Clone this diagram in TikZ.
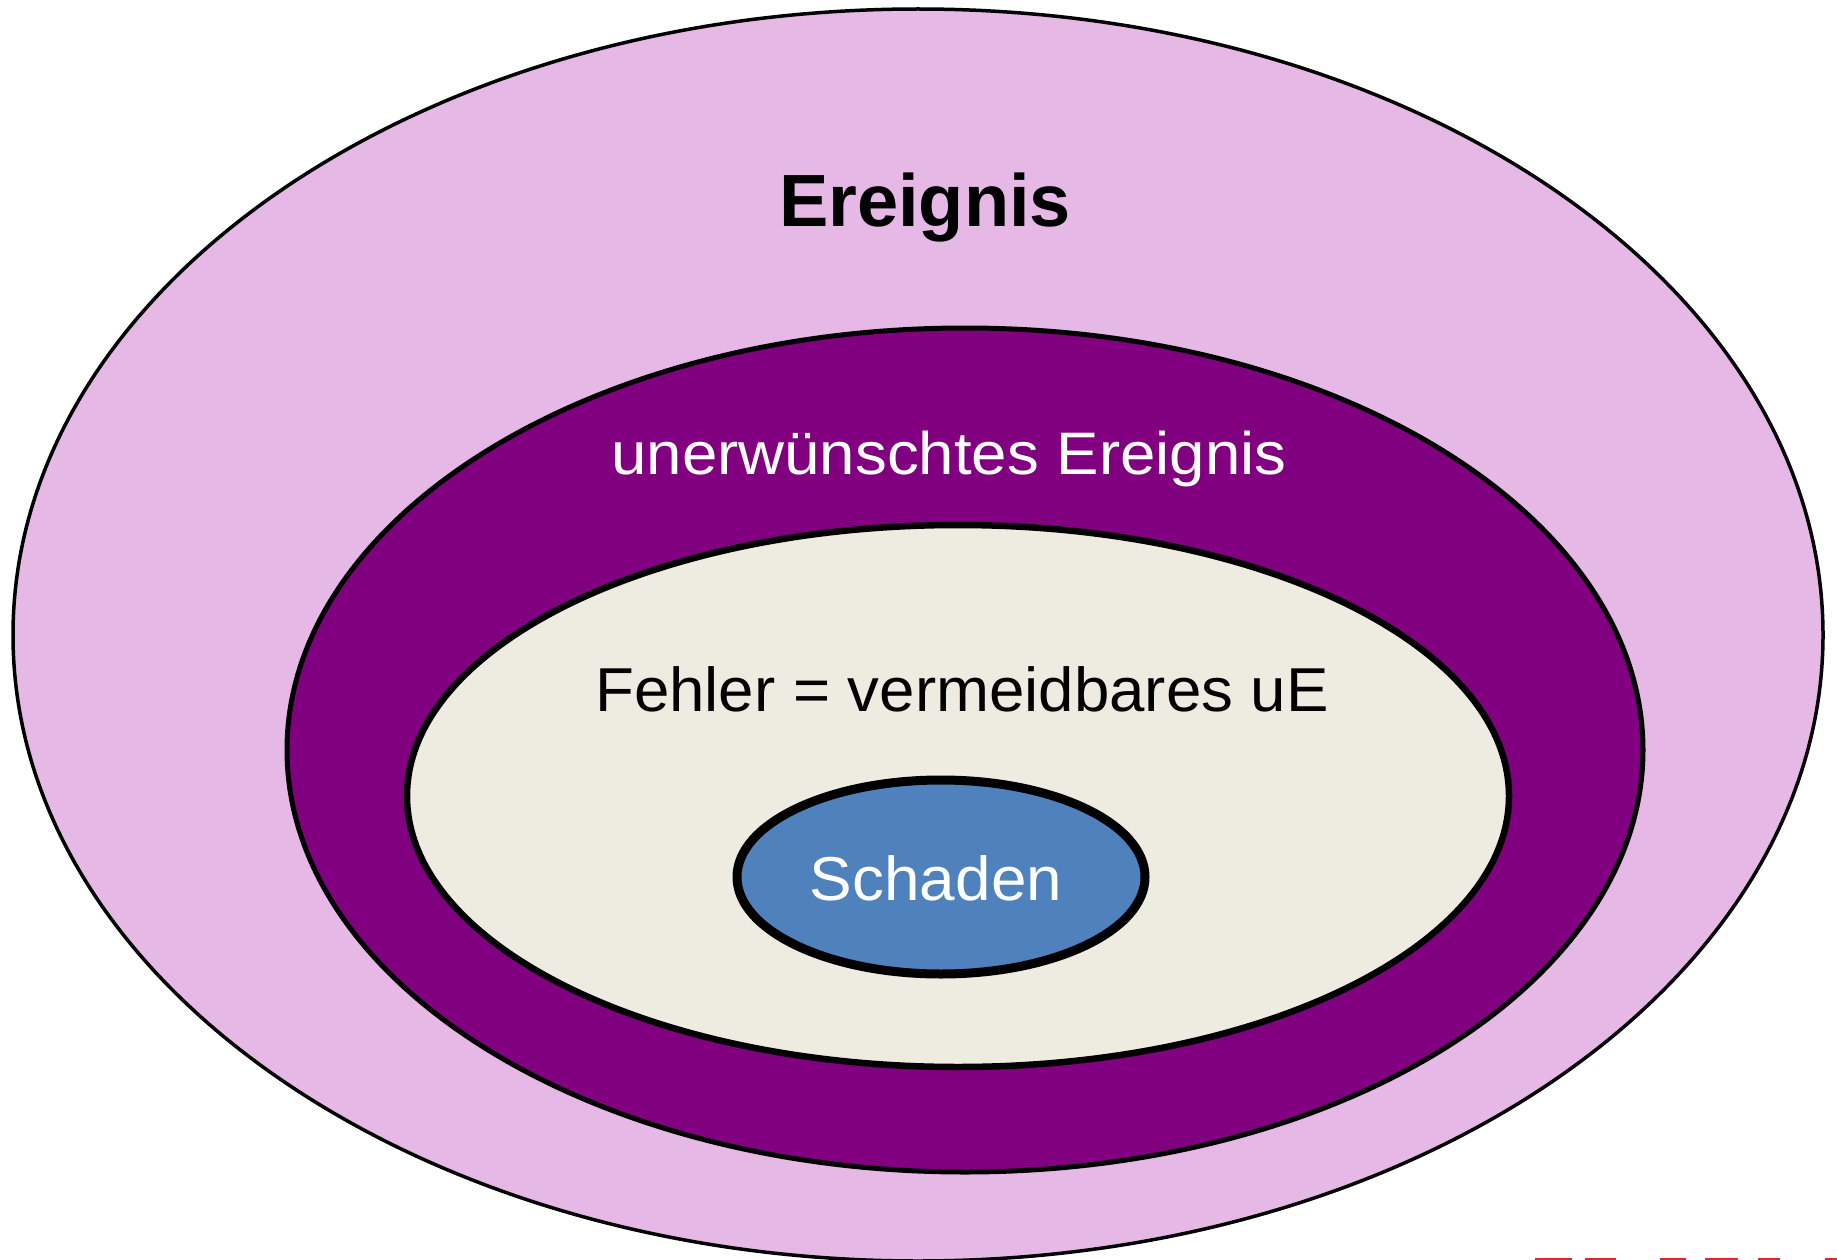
\documentclass[tikz,border=0pt]{standalone}
\usepackage{fontspec}
\usepackage{graphicx}
\setmainfont{Liberation Sans}
\definecolor{pinkfill}{RGB}{230,184,230}
\definecolor{purplefill}{RGB}{128,0,128}
\definecolor{beigefill}{RGB}{238,236,225}
\definecolor{bluefill}{RGB}{79,129,189}
\definecolor{dashred}{RGB}{220,40,50}
\tikzset{
  lbl/.style={anchor=base, inner sep=0pt},
  reddash/.style={draw=dashred, line width=2.5pt}
}
\begin{document}
\begin{tikzpicture}[x=1pt,y=-1pt]
\useasboundingbox (0,0) rectangle (1837,1260);
\fill[white] (0,0) rectangle (1837,1260);
\draw[fill=pinkfill, line width=3.5pt] (918,635) ellipse [x radius=905, y radius=626];
\draw[fill=purplefill, line width=5pt] (965,750) ellipse [x radius=678, y radius=422];
\draw[fill=beigefill, line width=6.5pt] (958,796) ellipse [x radius=551, y radius=271];
\draw[fill=bluefill, line width=9pt] (941,877) ellipse [x radius=204, y radius=97];
\node[lbl, font=\fontsize{74}{80}\selectfont\bfseries] (ereignis) at (925,227) {Ereignis};
\node[lbl, white, font=\fontsize{60}{66}\selectfont] (ue) at (949,474) {\scalebox{1.06}[1]{unerwünschtes Ereignis}};
\node[lbl, font=\fontsize{62}{68}\selectfont] (fehler) at (962,711) {\scalebox{1.026}[1]{Fehler = vermeidbares uE}};
\node[lbl, white, font=\fontsize{62}{68}\selectfont] (schaden) at (936,900) {\scalebox{1.03}[1]{Schaden}};
\foreach \a/\b in {1535/1572,1585/1616,1660/1686,1705/1738,1758/1780,1825/1837}
  \draw[reddash] (\a,1259) -- (\b,1259);
\end{tikzpicture}
\end{document}
